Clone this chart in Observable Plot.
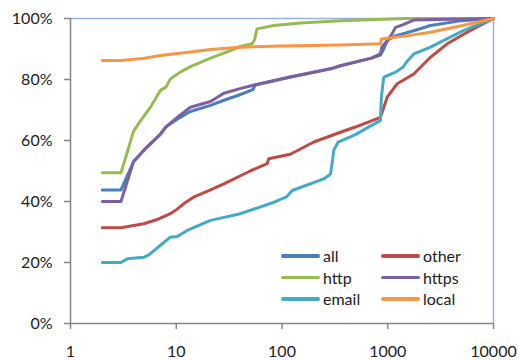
<!DOCTYPE html>
<html>
<head>
<meta charset="utf-8">
<script src="https://cdn.jsdelivr.net/npm/d3@7"></script>
<script src="https://cdn.jsdelivr.net/npm/@observablehq/plot@0.6"></script>
<style>
  html, body { margin: 0; padding: 0; background: #fff; }
  #wrap { position: relative; width: 519px; height: 360px; font-family: Lato, "Open Sans", sans-serif; }
  #legend { position: absolute; left: 281px; top: 245px; display: grid; grid-template-columns: 100px 90px; row-gap: 0px; font-size: 16px; color: #222; }
  .item { display: flex; align-items: center; height: 21.5px; }
  .sw { width: 39px; height: 3.5px; border-radius: 2px; margin-right: 3px; }
</style>
</head>
<body>
<div id="wrap"><div id="legend"></div></div>
<script>
// Series names and colours
const seriesNames = ["all", "other", "http", "https", "email", "local"];
const seriesColors = ["#4A7EBB", "#BE4B48", "#98B954", "#7D60A0", "#46AAC5", "#F79646"];

// x values (log scale) and y values (%) per series
const allX   = [2, 3, 3.4, 3.94, 5, 7.1, 8, 10.2, 13.6, 21.1, 28.2, 40, 53, 56, 120, 288, 357, 700, 853, 900, 1000, 1200, 1760, 2536, 5000, 10000];
const allY   = [43.8, 43.8, 48, 53, 57, 62, 64.5, 67, 69.5, 71.5, 73.2, 75, 76.7, 78.2, 80.8, 83.5, 84.5, 87, 88, 89.5, 93, 94.4, 96, 97.7, 99.3, 100];

const otherX = [2, 3, 4.93, 6.5, 8.8, 10.2, 12, 14.6, 21.1, 28.2, 50, 72.4, 75, 120, 200, 357, 500, 853, 900, 988, 1228, 1763, 2536, 3649, 6063, 10000];
const otherY = [31.4, 31.4, 32.7, 34, 36, 37.5, 39.5, 41.4, 43.8, 45.8, 50, 52.4, 54, 55.5, 59.5, 62.7, 64.5, 67.6, 70, 74.2, 78.6, 81.8, 87.3, 91.7, 96.1, 100];

const httpX  = [2, 3, 3.5, 3.94, 4.5, 5.7, 7.1, 8, 8.8, 11, 13.6, 21.1, 32.6, 40, 52.3, 55, 58, 83.7, 150, 357, 1500, 10000];
const httpY  = [49.4, 49.4, 57, 63, 66, 70.9, 76.5, 77.5, 80.2, 82.5, 84.2, 87, 89.5, 90.8, 91.7, 93, 96.6, 97.7, 98.5, 99.3, 100, 100];

const httpsX = [2, 3, 3.4, 3.94, 5, 7.1, 8, 10.2, 13.6, 21.1, 28.2, 40, 56, 120, 288, 357, 700, 853, 880, 1000, 1100, 1183, 1400, 1758, 10000];
const httpsY = [40, 40, 46, 53, 57, 62.2, 64.5, 67.6, 70.9, 72.8, 75.5, 77, 78.3, 80.8, 83.5, 84.5, 87, 88.4, 90.6, 93, 95, 97.1, 98, 99.5, 100];

const emailX = [2, 3, 3.44, 4.93, 5.5, 7, 8.8, 10.2, 12.7, 21.1, 40.5, 80, 110, 125, 248, 288, 310, 340, 500, 853, 870, 918, 1200, 1400, 1527, 1763, 2536, 5236, 10000];
const emailY = [20, 20, 21.2, 21.7, 22.5, 25.5, 28.3, 28.5, 30.5, 33.8, 36, 39.5, 41.5, 43.6, 47.4, 49, 57, 59.5, 62, 66.6, 74.2, 80.8, 82.5, 84.1, 86, 88.4, 90.6, 96.1, 100];

const localX = [2, 3, 5, 7.1, 13.6, 21.1, 40, 100, 357, 853, 870, 1500, 2536, 5236, 10000];
const localY = [86.2, 86.2, 87, 87.9, 89, 89.8, 90.6, 91, 91.3, 91.7, 93.3, 94.3, 95.5, 97.8, 100];

// Axis ticks
const xTicks = [1, 10, 100, 1000, 10000];
const yTicks = [0, 20, 40, 60, 80, 100];

const seriesX = [allX, otherX, httpX, httpsX, emailX, localX];
const seriesY = [allY, otherY, httpY, httpsY, emailY, localY];

const data = [];
seriesNames.forEach((name, i) => {
  seriesX[i].forEach((x, j) => data.push({series: name, x, y: seriesY[i][j]}));
});

const chart = Plot.plot({
  width: 519,
  height: 360,
  marginLeft: 70,
  marginRight: 26,
  marginTop: 18,
  marginBottom: 37,
  style: {fontFamily: "Lato, 'Open Sans', sans-serif", fontSize: "16px", color: "#222", background: "#fff"},
  x: {type: "log", domain: [1, 10000]},
  y: {domain: [0, 100]},
  color: {domain: seriesNames, range: seriesColors},
  marks: [
    Plot.ruleY([100], {stroke: "#95B3D7", strokeWidth: 1.5}),
    Plot.ruleX([10000], {stroke: "#95B3D7", strokeWidth: 1.5}),
    Plot.ruleX([1], {stroke: "#868686", strokeWidth: 1.5}),
    Plot.ruleY([0], {stroke: "#868686", strokeWidth: 1.5}),
    Plot.axisY({ticks: yTicks, tickFormat: d => d + "%", tickSize: 6, tickPadding: 12, stroke: "#868686", strokeWidth: 1.5, label: null, fontSize: 16, fill: "#222"}),
    Plot.axisX({ticks: xTicks, tickFormat: d => String(d), tickSize: 6, tickPadding: 16, stroke: "#868686", strokeWidth: 1.5, label: null, fontSize: 16, fill: "#222"}),
    Plot.line(data, {x: "x", y: "y", z: "series", stroke: "series", strokeWidth: 3, strokeLinejoin: "round", strokeLinecap: "round"})
  ]
});
document.getElementById("wrap").prepend(chart);

const legend = document.getElementById("legend");
seriesNames.forEach((name, i) => {
  const item = document.createElement("div");
  item.className = "item";
  item.innerHTML = `<span class="sw" style="background:${seriesColors[i]}"></span><span>${name}</span>`;
  legend.appendChild(item);
});
</script>
</body>
</html>
